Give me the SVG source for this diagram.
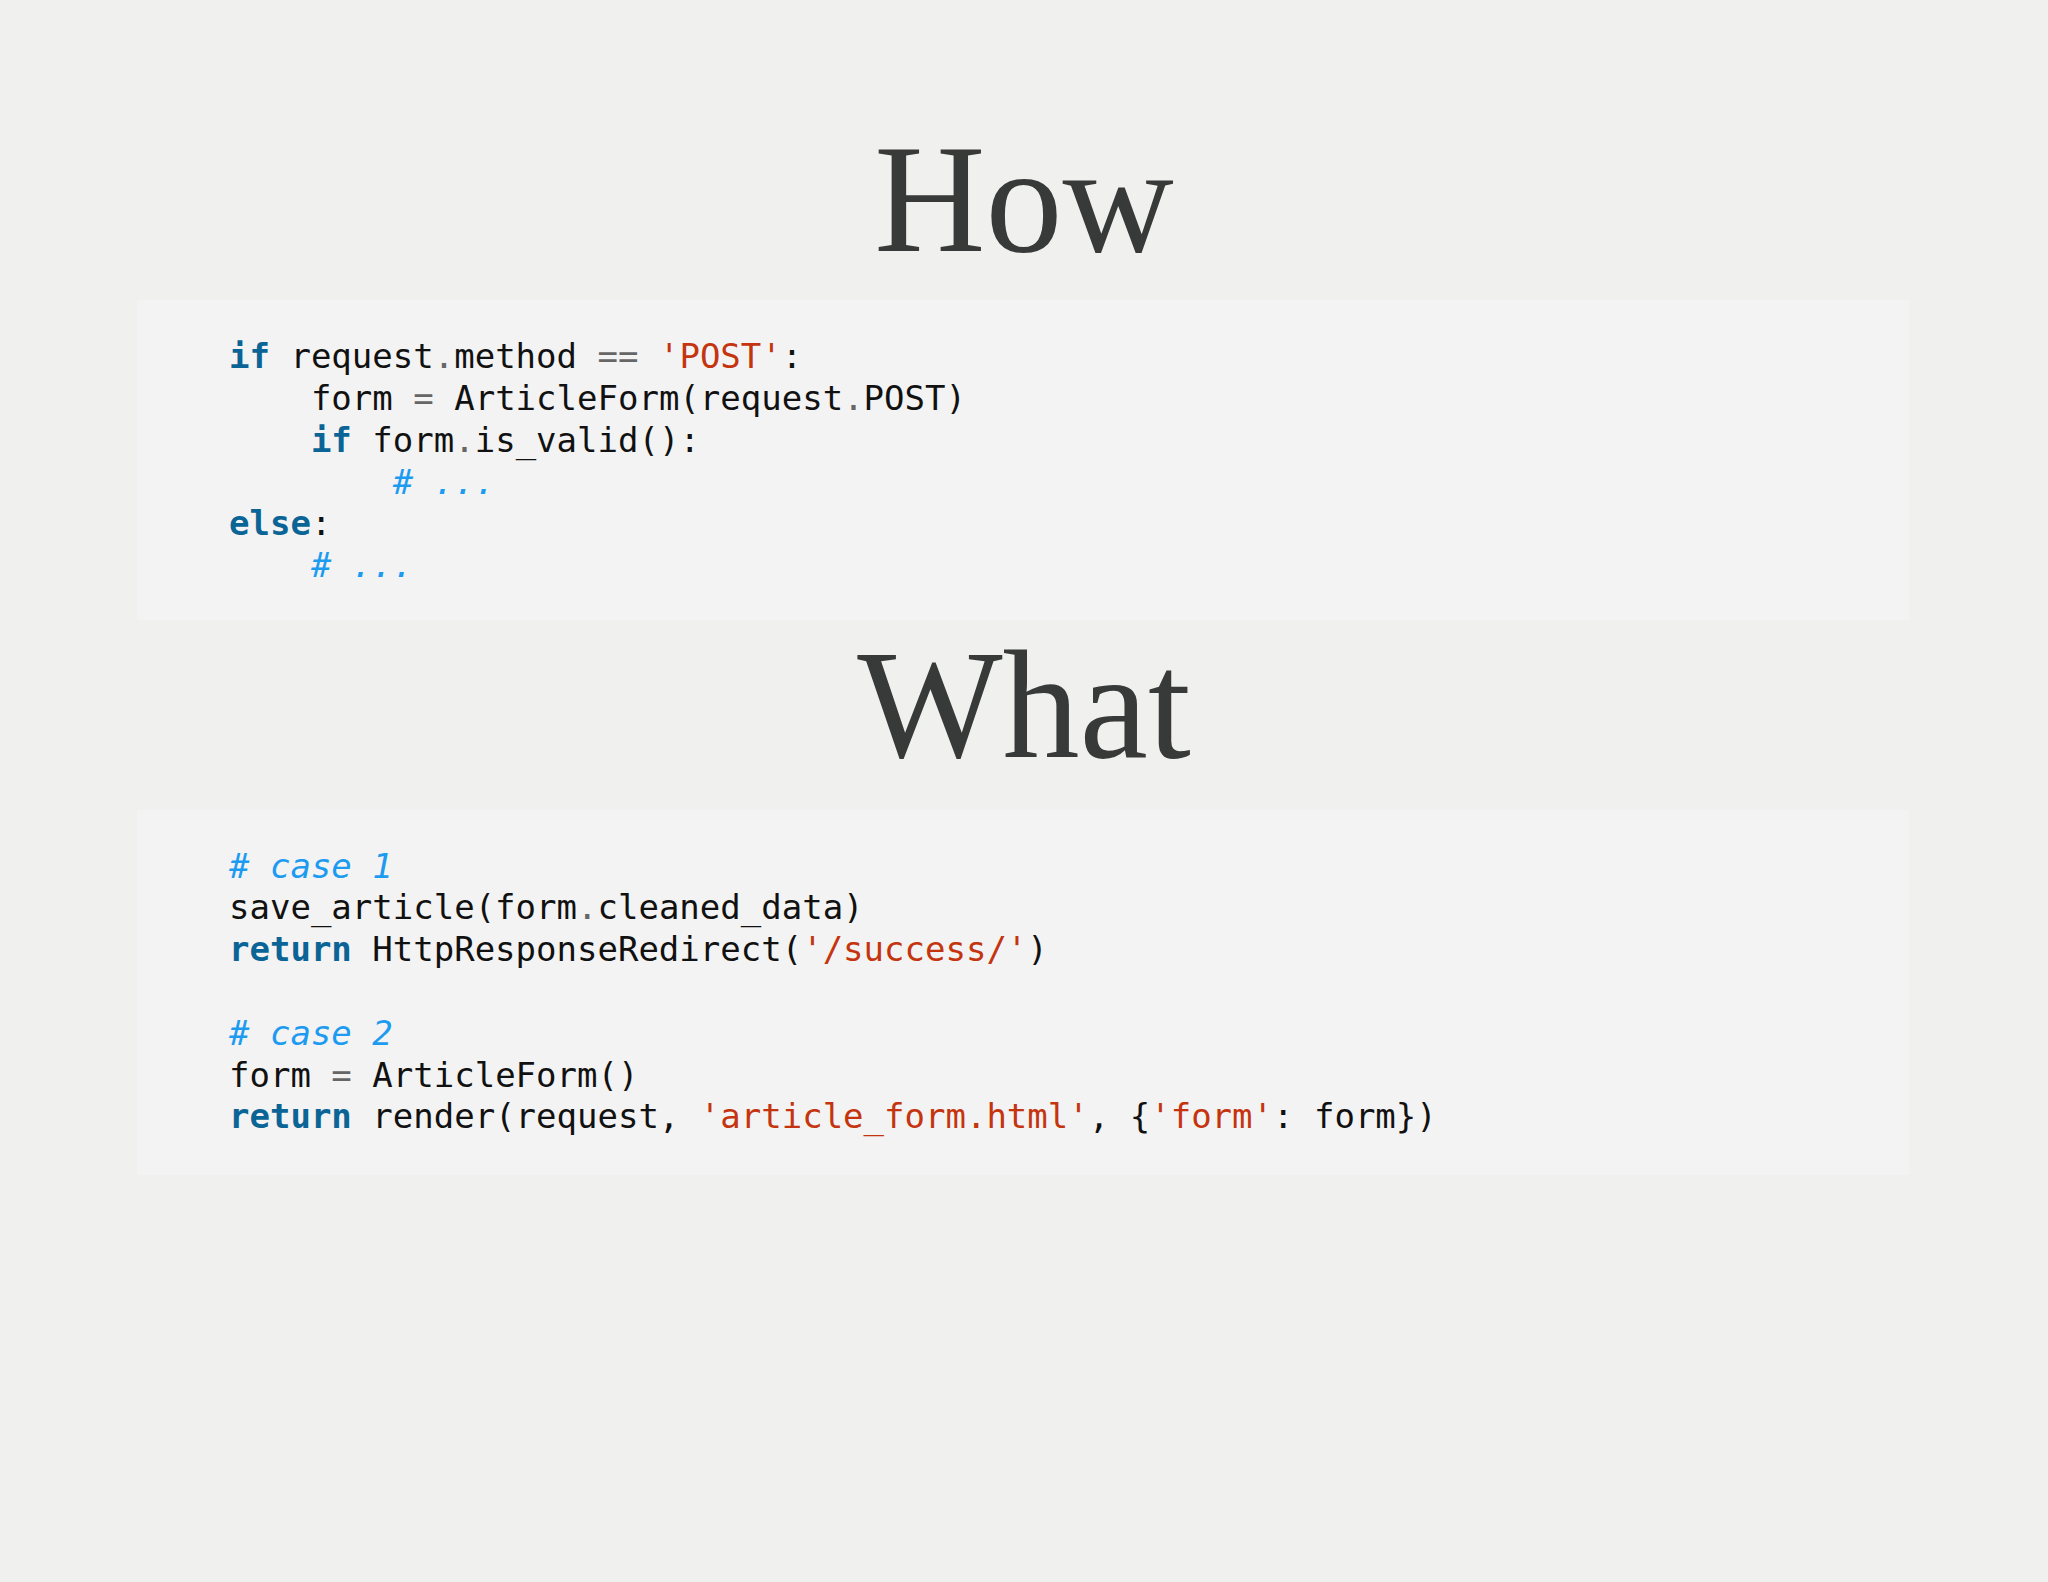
<svg xmlns="http://www.w3.org/2000/svg" width="2048" height="1582" viewBox="0 0 2048 1582">
<style>
.t{font-family:"Liberation Serif","Times New Roman",serif;font-size:154px;fill:#383a39;text-anchor:middle}
.c{font-family:"DejaVu Sans Mono",monospace;font-size:34px;fill:#111;white-space:pre}
.k{fill:#0b6496;font-weight:bold}
.s{fill:#c4350f}
.m{fill:#1c9bf0;font-style:italic}
.o{fill:#666}
.box{fill:#f3f3f3}
</style>
<rect width="2048" height="1582" fill="#f0f1ef"/>
<g id="how"><text class="t" x="1024" y="251">How</text></g>
<g id="code1">
<rect class="box" x="137" y="300" width="1772" height="320"/>
<text class="c" x="229" y="368"><tspan class="k">if</tspan> request<tspan class="o">.</tspan>method <tspan class="o">==</tspan> <tspan class="s">'POST'</tspan>:</text>
<text class="c" x="229" y="410">    form <tspan class="o">=</tspan> ArticleForm(request<tspan class="o">.</tspan>POST)</text>
<text class="c" x="229" y="452">    <tspan class="k">if</tspan> form<tspan class="o">.</tspan>is_valid():</text>
<text class="c" x="229" y="494">        <tspan class="m"># ...</tspan></text>
<text class="c" x="229" y="535"><tspan class="k">else</tspan>:</text>
<text class="c" x="229" y="577">    <tspan class="m"># ...</tspan></text>
</g>
<g id="what"><text class="t" x="1024" y="757">What</text></g>
<g id="code2">
<rect class="box" x="137" y="810" width="1772" height="365"/>
<text class="c" x="229" y="878"><tspan class="m"># case 1</tspan></text>
<text class="c" x="229" y="919">save_article(form<tspan class="o">.</tspan>cleaned_data)</text>
<text class="c" x="229" y="961"><tspan class="k">return</tspan> HttpResponseRedirect(<tspan class="s">'/success/'</tspan>)</text>
<text class="c" x="229" y="1045"><tspan class="m"># case 2</tspan></text>
<text class="c" x="229" y="1087">form <tspan class="o">=</tspan> ArticleForm()</text>
<text class="c" x="229" y="1128"><tspan class="k">return</tspan> render(request, <tspan class="s">'article_form.html'</tspan>, {<tspan class="s">'form'</tspan>: form})</text>
</g>
</svg>
